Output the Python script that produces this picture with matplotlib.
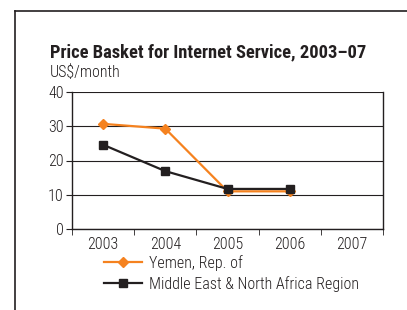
import matplotlib
matplotlib.use("Agg")
import matplotlib.pyplot as plt
from matplotlib.lines import Line2D
import numpy as np

years = ["2003", "2004", "2005", "2006", "2007"]
yemen = [30.7, 29.3, 11.0, 11.0, None]
mena = [24.6, 16.9, 11.7, 11.7, None]
yticks = [0, 10, 20, 30, 40]

plt.rcParams['font.family'] = ['Roboto Condensed', 'DejaVu Sans']
plt.rcParams['font.weight'] = 'light'
INK = "#231f20"

W, H = 407, 310
fig = plt.figure(figsize=(W/100, H/100), dpi=100)
ax = fig.add_axes([72/W, 1-229/H, (383-72)/W, (229-92)/H])

x = np.arange(len(years))
def clean(v):
    xs = [i for i, val in enumerate(v) if val is not None]
    return xs, [v[i] for i in xs]

xs, ys = clean(yemen)
ax.plot(xs, ys, color="#f5821f", lw=1.6, marker="D", ms=5.5, label="Yemen, Rep. of", zorder=3)
xs, ys = clean(mena)
ax.plot(xs, ys, color=INK, lw=1.6, marker="s", ms=6, label="Middle East & North Africa Region", zorder=4)

ax.set_xlim(-0.5, len(years)-0.5)
ax.set_ylim(0, 40)
ax.set_yticks(yticks)
ax.set_yticklabels([str(t) for t in yticks], fontsize=11.5, color=INK)
ax.set_xticks(x)
ax.set_xticklabels(years, fontsize=11.5, color=INK)
ax.tick_params(axis='x', length=0, pad=6)
ax.set_xticks(np.arange(-0.5, len(years)), minor=True)
ax.tick_params(axis='x', which='minor', length=4, direction='out', color=INK)
ax.tick_params(axis='y', length=4, direction='out', pad=2, color=INK)
ax.yaxis.grid(True, color=INK, lw=0.8)
for s in ['left', 'bottom', 'right']:
    ax.spines[s].set_color(INK)
    ax.spines[s].set_linewidth(1.0)
ax.spines['top'].set_visible(False)
ax.set_axisbelow(True)

fig.text(50/W, 1-57/H, "Price Basket for Internet Service, 2003\u201307", fontsize=13.3,
         fontweight='bold', color=INK, ha='left', va='baseline')
fig.text(50/W, 1-77/H, "US$/month", fontsize=11.5, color=INK, ha='left', va='baseline')

leg = fig.legend(loc='upper left', bbox_to_anchor=(104/W, 1-255/H), frameon=False,
                 fontsize=11.5, handlelength=2.4, labelspacing=0.3, handletextpad=0.4,
                 borderaxespad=0, borderpad=0)
for t in leg.get_texts():
    t.set_color(INK)

fig.add_artist(Line2D([15/W, 15/W], [0, 1-11/H], color=INK, lw=1.2))
fig.add_artist(Line2D([15/W, 1], [1-11/H, 1-11/H], color=INK, lw=1.2))

fig.savefig("out.png", dpi=100)
